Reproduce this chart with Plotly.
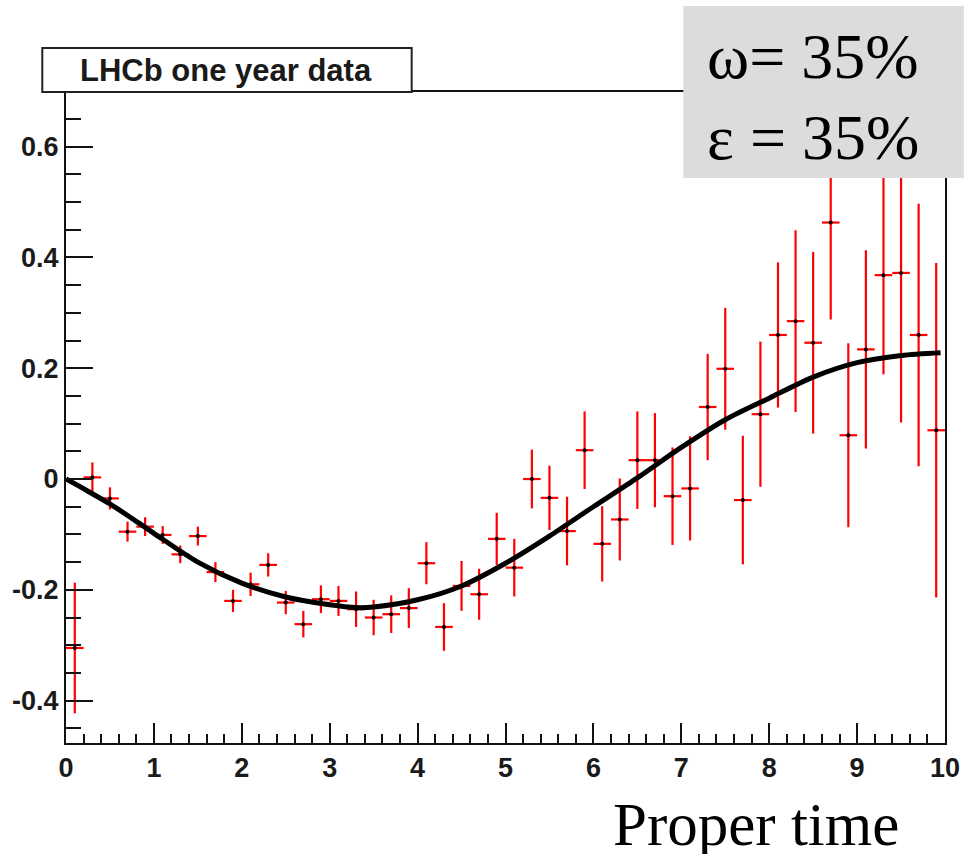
import plotly.graph_objects as go

# Bin centres (proper time), measured asymmetry and its error
t_bins = [0.1, 0.3, 0.5, 0.7, 0.9, 1.1, 1.3, 1.5, 1.7, 1.9,
          2.1, 2.3, 2.5, 2.7, 2.9, 3.1, 3.3, 3.5, 3.7, 3.9,
          4.1, 4.3, 4.5, 4.7, 4.9, 5.1, 5.3, 5.5, 5.7, 5.9,
          6.1, 6.3, 6.5, 6.7, 6.9, 7.1, 7.3, 7.5, 7.7, 7.9,
          8.1, 8.3, 8.5, 8.7, 8.9, 9.1, 9.3, 9.5, 9.7, 9.9]
asym = [-0.305, 0.003, -0.035, -0.095, -0.086, -0.101, -0.136, -0.103, -0.168, -0.220,
        -0.190, -0.155, -0.223, -0.262, -0.217, -0.220, -0.235, -0.250, -0.244, -0.233,
        -0.152, -0.267, -0.193, -0.208, -0.108, -0.160, 0.000, -0.034, -0.094, 0.052,
        -0.117, -0.073, 0.034, 0.034, -0.031, -0.017, 0.130, 0.199, -0.038, 0.117,
        0.260, 0.285, 0.246, 0.463, 0.079, 0.234, 0.368, 0.372, 0.260, 0.088]
asym_err = [0.118, 0.027, 0.020, 0.018, 0.017, 0.016, 0.016, 0.017, 0.018, 0.020,
            0.021, 0.021, 0.021, 0.024, 0.025, 0.027, 0.032, 0.032, 0.034, 0.036,
            0.038, 0.043, 0.045, 0.046, 0.047, 0.052, 0.053, 0.058, 0.062, 0.070,
            0.068, 0.074, 0.088, 0.085, 0.088, 0.094, 0.096, 0.110, 0.116, 0.131,
            0.131, 0.164, 0.164, 0.175, 0.166, 0.179, 0.179, 0.270, 0.237, 0.302]
bin_half_width = [0.1] * len(t_bins)

# Fitted curve
fit_t = [0.0, 0.25, 0.5, 0.75, 1.0, 1.5, 2.0, 2.5, 3.0, 3.3, 3.5, 4.0, 4.5, 5.0,
         5.5, 6.0, 6.5, 7.0, 7.5, 8.0, 8.5, 9.0, 9.5, 9.95]
fit_v = [0.0, -0.022, -0.045, -0.071, -0.098, -0.150, -0.188, -0.213, -0.227, -0.232, -0.231,
         -0.218, -0.193, -0.152, -0.103, -0.050, 0.002, 0.057, 0.107, 0.146, 0.184, 0.210,
         0.223, 0.228]

x_ticks = [0, 1, 2, 3, 4, 5, 6, 7, 8, 9, 10]
y_ticks = [-0.4, -0.2, 0, 0.2, 0.4, 0.6]
y_tick_labels = ["-0.4", "-0.2", "0", "0.2", "0.4", "0.6"]

title_text = "LHCb one year data"
info_lines = ["ω= 35%", "ε = 35%"]
x_title = "Proper time"

fig = go.Figure()

fig.add_trace(go.Scatter(
    x=t_bins, y=asym, mode="markers",
    marker=dict(color="black", size=4),
    error_y=dict(type="data", array=asym_err, color="#ff0000", thickness=2.2, width=0),
    error_x=dict(type="data", array=bin_half_width, color="#ff0000", thickness=2.2, width=0),
    showlegend=False, hoverinfo="skip",
))

fig.add_trace(go.Scatter(
    x=fit_t, y=fit_v, mode="lines",
    line=dict(color="black", width=5, shape="spline", smoothing=0.8),
    showlegend=False, hoverinfo="skip",
))

tickfont = dict(family="Liberation Sans, Arial, sans-serif", size=27, color="#1a1a1a", weight="bold")

fig.update_xaxes(
    range=[0, 10], tickmode="array", tickvals=x_ticks, ticktext=[str(v) for v in x_ticks],
    ticks="inside", ticklen=20, tickwidth=2, tickcolor="#111",
    minor=dict(dtick=0.2, tick0=0, ticks="inside", ticklen=9, tickwidth=2, tickcolor="#111", showgrid=False),
    showline=True, linecolor="#111", linewidth=2, mirror=True,
    showgrid=False, zeroline=False, tickfont=tickfont,
)
fig.update_yaxes(
    range=[-0.4765, 0.6986], tickmode="array", tickvals=y_ticks, ticktext=y_tick_labels,
    ticks="inside", ticklen=27, tickwidth=2, tickcolor="#111",
    minor=dict(dtick=0.05, tick0=0, ticks="inside", ticklen=15, tickwidth=2, tickcolor="#111", showgrid=False),
    showline=True, linecolor="#111", linewidth=2, mirror=True,
    showgrid=False, zeroline=False, tickfont=tickfont,
)

# pixel geometry helpers (plot area 66..956 x 92..743)
L, R, T, B = 66, 956, 92, 743
def px(x):
    return (x - L) / (R - L)
def py(y):
    return (B - y) / (B - T)

shapes = [
    dict(type="rect", xref="paper", yref="paper", x0=px(42), x1=px(416), y0=py(92), y1=py(48),
         fillcolor="white", line=dict(color="#222", width=2), layer="above"),
    dict(type="rect", xref="paper", yref="paper", x0=px(691), x1=px(975), y0=py(178), y1=py(6),
         fillcolor="#dcdcdc", line=dict(width=0), layer="above"),
]

annotations = [
    dict(xref="paper", yref="paper", x=px(228), y=py(70), text=title_text, showarrow=False,
         xanchor="center", yanchor="middle",
         font=dict(family="Liberation Sans, Arial, sans-serif", size=31, color="#1a1a1a", weight="bold")),
    dict(xref="paper", yref="paper", x=px(713), y=py(56), text=info_lines[0], showarrow=False,
         xanchor="left", yanchor="middle",
         font=dict(family="Liberation Serif, Times New Roman, serif", size=64, color="black")),
    dict(xref="paper", yref="paper", x=px(713), y=py(137), text=info_lines[1], showarrow=False,
         xanchor="left", yanchor="middle",
         font=dict(family="Liberation Serif, Times New Roman, serif", size=64, color="black")),
    dict(xref="paper", yref="paper", x=px(618), y=py(824), text=x_title, showarrow=False,
         xanchor="left", yanchor="middle",
         font=dict(family="Liberation Serif, Times New Roman, serif", size=61, color="black")),
]

fig.update_layout(
    width=972, height=854,
    margin=dict(l=L, r=972 - R, t=T, b=854 - B, pad=0),
    paper_bgcolor="white", plot_bgcolor="white",
    shapes=shapes, annotations=annotations,
    showlegend=False,
)

fig.write_html(
    "out.html",
    config={"displayModeBar": False},
    post_script="document.body.style.margin='0';document.body.style.overflow='hidden';",
)
